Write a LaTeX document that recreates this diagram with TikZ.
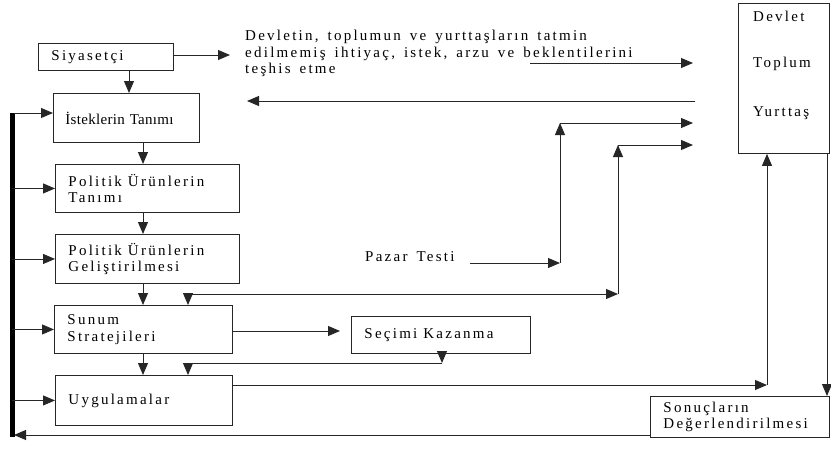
\documentclass[tikz,border=0pt]{standalone}
\usepackage{fontspec}
\newfontfamily\rfwide{Liberation Serif}[LetterSpace=15,WordSpace=1.5]
\newfontfamily\rftight{Liberation Serif}[LetterSpace=2]
\newcommand\wgap{\hspace{6pt}}
\usetikzlibrary{arrows.meta}
\tikzset{
  ln/.style={line width=0.9pt, draw=black!85},
  arr/.style={ln, -{Triangle[length=12pt,width=10pt]}},
  txt/.style={font=\rfwide\fontsize{15}{16.5}\selectfont, inner sep=0pt},
  box/.style={ln, draw, inner xsep=13pt, inner ysep=0pt, align=left, anchor=north west,
    font=\rfwide\fontsize{15}{16.5}\selectfont},
}
\begin{document}
\begin{tikzpicture}[x=1pt,y=-1pt]
\fill[white] (0,0) rectangle (831,450);
\useasboundingbox (0,0) rectangle (831,450);

% boxes
\node[box, text width=109pt, minimum height=27pt] (siy) at (38,43) {Siyasetçi};
\node[box, text width=122pt, minimum height=49pt, inner xsep=12pt, font=\rftight\fontsize{15}{16.5}\selectfont] (ist) at (53,93) {İsteklerin Tanımı};
\node[box, text width=158pt, minimum height=48pt] (pt) at (55,164) {Politik\wgap Ürünlerin\\Tanımı};
\node[box, text width=158pt, minimum height=49pt] (pg) at (55,234) {Politik\wgap Ürünlerin\\Geliştirilmesi};
\node[box, text width=152pt, minimum height=48pt] (sun) at (54,305) {Sunum\\Stratejileri};
\node[box, text width=151pt, minimum height=50pt] (uyg) at (55,375) {Uygulamalar};
\node[box, text width=153pt, minimum height=37pt] (sec) at (351,316) {Seçimi\wgap Kazanma};
\node[box, text width=153pt, minimum height=41pt] (son) at (650,396) {Sonuçların\\Değerlendirilmesi};
\node[ln, draw, anchor=north west, minimum width=91pt, minimum height=150pt, inner sep=0pt] (dev) at (738,3) {};
\node[txt, anchor=west] (tdev) at (753,16) {Devlet};
\node[txt, anchor=west] (ttop) at (753,64) {Toplum};
\node[txt, anchor=west] (tyur) at (753,113) {Yurttaş};

% free texts
\node[txt, anchor=north west, align=left] (ihtiyac) at (245,30) {Devletin, toplumun ve yurttaşların tatmin\\edilmemiş ihtiyaç, istek, arzu ve beklentilerini\\teşhis etme};
\node[txt, anchor=west] (pazar) at (365,257) {Pazar Testi};

% coordinates
\coordinate (c1) at (230,55);
\coordinate (a1) at (530,63); \coordinate (a2) at (693,63);
\coordinate (b1) at (695,101); \coordinate (b2) at (247,101);
\coordinate (p1) at (470,263); \coordinate (p2) at (560,263);
\coordinate (p3) at (560,123); \coordinate (p4) at (693,123);
\coordinate (q1) at (188,294); \coordinate (q2) at (618,294);
\coordinate (q3) at (618,145); \coordinate (q4) at (693,145);
\coordinate (r1) at (442,363); \coordinate (r2) at (188,363);
\coordinate (u1) at (767,385);
\coordinate (bartop) at (12,113); \coordinate (barbot) at (12,437);
\coordinate (s1) at (14,435);

% top connectors
\draw[arr] (siy.east |- c1) -- (c1);
\draw[arr] (siy.south -| 129,0) -- (ist.north -| 129,0);
\draw[arr] (a1) -- (a2);
\draw[arr] (b1) -- (b2);
\draw[arr] (p1) -- (p2);
\draw[arr] (p2) -- (p3);
\draw[arr] (p3) -- (p4);

% vertical chain
\draw[arr] (ist.south -| 143,0) -- (pt.north -| 143,0);
\draw[arr] (pt.south -| 143,0) -- (pg.north -| 143,0);
\draw[arr] (pg.south -| 143,0) -- (sun.north -| 143,0);
\draw[arr] (sun.south -| 143,0) -- (uyg.north -| 143,0);

% feedback to Sunum
\draw[arr] (q1) -- (q2);
\draw[arr] (q2) -- (q3);
\draw[arr] (q3) -- (q4);
\draw[arr] (q1) -- (sun.north -| q1);

% Seçimi Kazanma
\draw[arr] (sun.east |- 0,331) -- (340,331);
\draw[arr] (sec.south -| r1) -- (r1);
\draw[ln] (r1) -- (r2);
\draw[arr] (r2) -- (uyg.north -| r2);

% Uygulamalar to Devlet
\draw[arr] (uyg.east |- u1) -- (u1);
\draw[arr] (u1) -- (dev.south -| u1);
\draw[arr] (dev.south -| 827,0) -- (son.north -| 827,0);

% feedback bar
\draw[ln] (son.west |- s1) -- (30,435);
\draw[arr] (30,435) -- (s1);
\draw[line width=5pt, black] (bartop) -- (barbot);
\draw[arr] ([xshift=2pt]bartop) -- (bartop -| ist.west);
\draw[arr] (12,0 |- pt.west) -- (pt.west);
\draw[arr] (12,0 |- pg.west) -- (pg.west);
\draw[arr] (12,0 |- sun.west) -- (sun.west);
\draw[arr] (12,0 |- uyg.west) -- (uyg.west);
\end{tikzpicture}
\end{document}
